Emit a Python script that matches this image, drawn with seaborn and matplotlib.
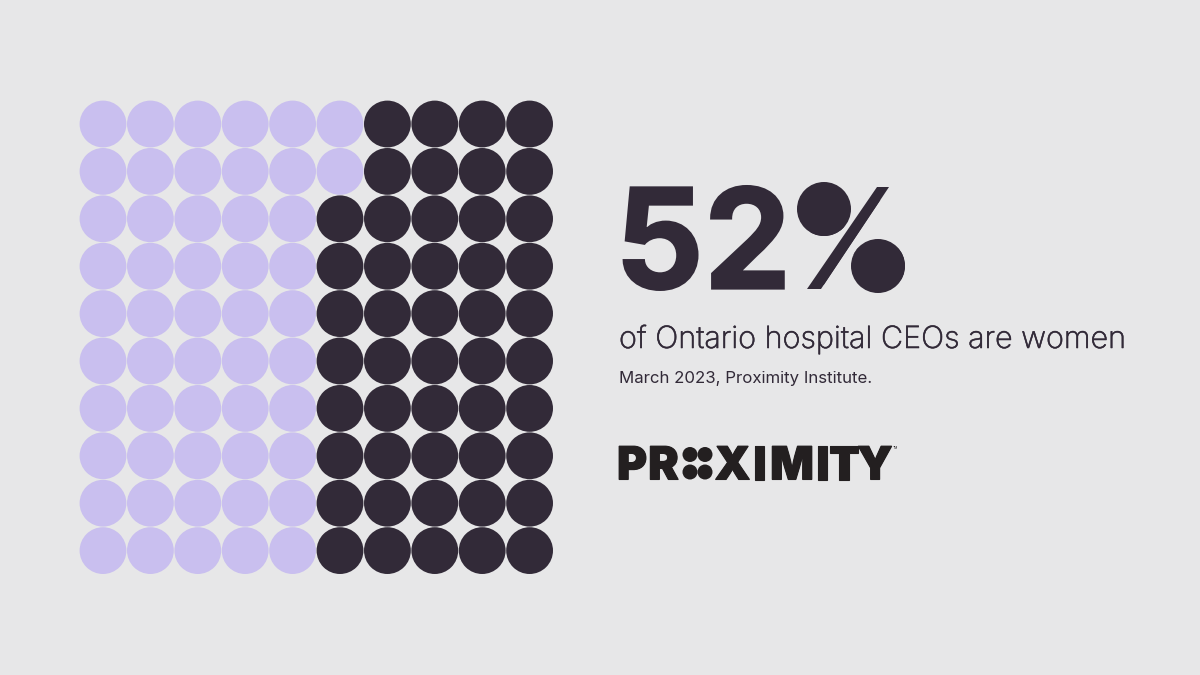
import pandas as pd
import matplotlib
matplotlib.use("Agg")
import matplotlib.pyplot as plt
import matplotlib.patheffects as pe
from matplotlib.patches import Circle, Polygon
from matplotlib.path import Path
import seaborn as sns

# Share of women per row of the 10x10 grid (top row first)
rows = [0, 1, 2, 3, 4, 5, 6, 7, 8, 9]
purple_per_row = [6, 6, 5, 5, 5, 5, 5, 5, 5, 5]
headline_number = "52"
headline_sign = "%"
subtitle = "of Ontario hospital CEOs are women"
source = "March 2023, Proximity Institute."
logo_letters = ["P", "R", "X", "I", "M", "I", "T", "Y"]

BG = "#e7e7e8"
PURPLE = "#c9bfef"
DARK = "#322a38"
LOGO = "#231f20"

W, H = 1200, 675

records = []
for row, n_purple in zip(rows, purple_per_row):
    for col in range(10):
        records.append({"row": row, "col": col, "group": "women" if col < n_purple else "men"})
df = pd.DataFrame(records)

sns.set_theme(style="white")
fig = plt.figure(figsize=(12, 6.75), dpi=100, facecolor=BG)

# waffle axes, cells are 47.4 px
ax = fig.add_axes([79.3 / W, 1 - 574.3 / H, 474 / W, 474 / H])
ax.set_facecolor(BG)
sns.scatterplot(data=df, x="col", y="row", hue="group", palette={"women": PURPLE, "men": DARK},
                s=1135, linewidth=0, legend=False, ax=ax, clip_on=False)
ax.set_xlim(-0.5, 9.5)
ax.set_ylim(9.5, -0.5)
ax.axis("off")


def px(x, y):
    return x / W, 1 - y / H


# big number, stroked a little to get the heavier weight
heavy = [pe.withStroke(linewidth=1.6, foreground=DARK, joinstyle="miter")]
fig.text(*px(615, 288.5), headline_number, fontsize=100, family="Inter", fontweight="bold", color=DARK,
         va="baseline", path_effects=heavy)

# the percent sign has solid dots in the original
overlay = fig.add_axes([0, 0, 1, 1], facecolor="none")
overlay.set_xlim(0, W)
overlay.set_ylim(H, 0)
overlay.axis("off")
dot_a = Circle((824, 209), 27, color=DARK, lw=0)
dot_b = Circle((878, 266), 27, color=DARK, lw=0)
slash = Polygon([(877, 187), (889, 187), (821, 289), (807, 289)], color=DARK, lw=0)
for shape in (dot_a, dot_b, slash):
    overlay.add_patch(shape)

# real % glyph, clipped to the solid shapes so the rings don't stick out
sign = fig.text(*px(797, 285), headline_sign, fontsize=84, family="Inter", fontweight="bold", color=DARK,
                va="baseline", path_effects=[pe.Normal()])
shapes = Path.make_compound_path(
    dot_a.get_patch_transform().transform_path(dot_a.get_path()),
    dot_b.get_patch_transform().transform_path(dot_b.get_path()),
    slash.get_path(),
)
sign.set_clip_path(shapes, overlay.transData)

sub_fx = [pe.withStroke(linewidth=0.4, foreground=DARK)]
fig.text(*px(619, 348), subtitle, fontsize=22, family="Inter", fontweight="light", color=DARK,
         va="baseline", path_effects=sub_fx)
fig.text(*px(619, 383), source, fontsize=12.1, family="Inter", color=DARK, va="baseline")

# logo, the O is four dots
logo_fx = [pe.withStroke(linewidth=0.8, foreground=LOGO, joinstyle="miter")]
for letter, cx in zip(logo_letters, [632, 663.5, 732.5, 759, 792, 822.5, 844, 875]):
    fig.text(*px(cx, 479.5), letter, fontsize=33, family="Inter", fontweight="black", color=LOGO,
             ha="center", va="baseline", path_effects=logo_fx)
for cx, cy in [(690, 454.5), (705, 454.5), (690, 472), (705, 472)]:
    overlay.add_patch(Circle((cx, cy), 7.5, color=LOGO, lw=0))
fig.text(*px(893, 449), "TM", fontsize=2.5, family="Inter", color=LOGO, va="baseline")

fig.savefig("out.png", dpi=100, facecolor=BG)
